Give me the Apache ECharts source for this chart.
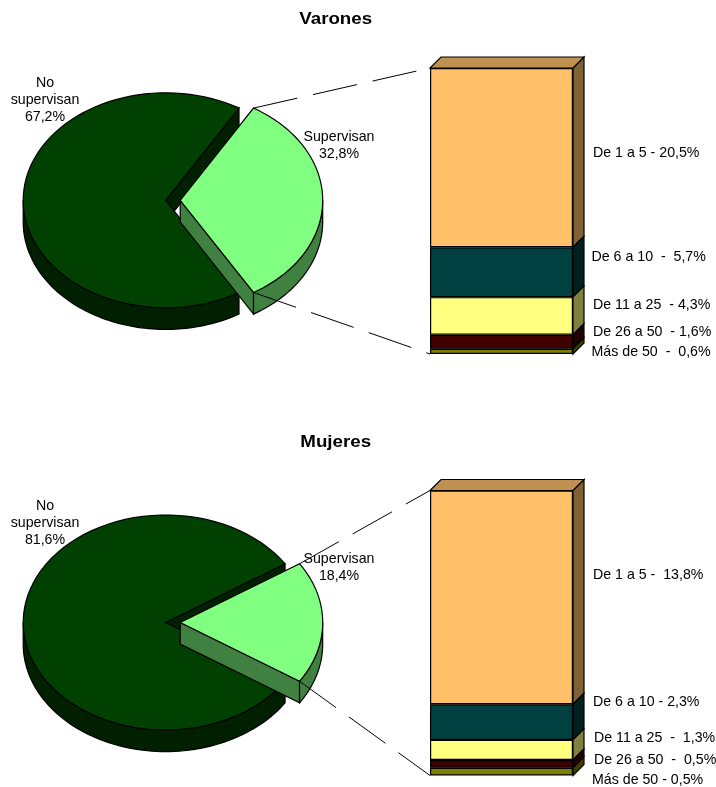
<!DOCTYPE html>
<html>
<head>
<meta charset="utf-8">
<style>html,body{margin:0;padding:0;background:#fff}#chart{width:716px;height:787px}</style>
<script src="https://cdn.jsdelivr.net/npm/echarts@6/dist/echarts.min.js"></script>
</head>
<body>
<div id="chart"></div>
<script>
// datos
var tramos = ['De 1 a 5', 'De 6 a 10', 'De 11 a 25', 'De 26 a 50', 'Más de 50'];
var varonesTramos = [20.5, 5.7, 4.3, 1.6, 0.6];
var mujeresTramos = [13.8, 2.3, 1.3, 0.5, 0.5];
var varonesPie = [67.2, 32.8];
var mujeresPie = [81.6, 18.4];
var etiquetasVarones = ['De 1 a 5 - 20,5%', 'De 6 a 10  -  5,7%', 'De 11 a 25  - 4,3%', 'De 26 a 50  - 1,6%', 'Más de 50  -  0,6%'];
var etiquetasMujeres = ['De 1 a 5 -  13,8%', 'De 6 a 10 - 2,3%', 'De 11 a 25  -  1,3%', 'De 26 a 50  -  0,5%', 'Más de 50 - 0,5%'];

// colores: frente, lateral, tapa
var colores = ['#FFC069', '#004040', '#FFFF80', '#400000', '#808000'];
var lateral = ['#806035', '#002020', '#808040', '#200000', '#404000'];
var tapa = '#BF9050';
var FUENTE = '"Liberation Sans", Arial, sans-serif';

// posiciones de cada panel
var paneles = [
    { titulo: 'Varones', tituloY: 19.5, pie: varonesPie, tramos: varonesTramos, etiquetas: etiquetasVarones,
      cy: 200.3, barLeft: 430, barTop: 68, barH: 286,
      etqX: [593, 591.5, 593, 593, 591.5], etqY: [153, 257, 305, 332, 352],
      pctNo: '67,2%', pctSi: '32,8%', noY: 83, siY: 137 },
    { titulo: 'Mujeres', tituloY: 443, pie: mujeresPie, tramos: mujeresTramos, etiquetas: etiquetasMujeres,
      cy: 622.5, barLeft: 430, barTop: 490.5, barH: 285,
      etqX: [593, 593, 594, 594, 592], etqY: [575, 702, 738, 760, 780],
      pctNo: '81,6%', pctSi: '18,4%', noY: 506, siY: 559 }
];
var BAR_W = 143, OFF = 11, RX = 142.5, RY = 107.5, DEPTH = 21.6, CX = 165.7, EXPLODE = 14.5;

function arco(cx, cy, a0, a1) {
    var pts = [], n = 80;
    for (var i = 0; i <= n; i++) {
        var t = a0 + (a1 - a0) * i / n;
        pts.push([cx + RX * Math.cos(t), cy + RY * Math.sin(t)]);
    }
    return pts;
}
function poli(pts, fill, lw) {
    return { type: 'polygon', shape: { points: pts }, style: { fill: fill, stroke: '#000', lineWidth: lw || 1.2 } };
}
function bajar(pts) {
    return pts.map(function (p) { return [p[0], p[1] + DEPTH]; });
}

// torta con efecto 3D, la porcion "supervisan" separada y centrada a la derecha
function pintarPie(panel) {
    return function (params, api) {
        var h = api.value(1) / 100 * Math.PI;
        var cy = panel.cy, c2 = CX + EXPLODE;
        var hijos = [];
        // oscuro
        var p1 = [CX + RX * Math.cos(h), cy - RY * Math.sin(h)];
        hijos.push(poli([[CX, cy], p1, [p1[0], p1[1] + DEPTH], [CX, cy + DEPTH]], '#002000'));
        var borde = arco(CX, cy, h, Math.PI);
        hijos.push(poli(borde.concat(bajar(borde).reverse()), '#002000'));
        hijos.push(poli([[CX, cy]].concat(arco(CX, cy, h, 2 * Math.PI - h)), '#004000'));
        // claro
        var inf = [c2 + RX * Math.cos(h), cy + RY * Math.sin(h)];
        var sup = [c2 + RX * Math.cos(h), cy - RY * Math.sin(h)];
        hijos.push(poli([[c2, cy], inf, [inf[0], inf[1] + DEPTH], [c2, cy + DEPTH]], '#408040'));
        var borde2 = arco(c2, cy, 0, h);
        hijos.push(poli(borde2.concat(bajar(borde2).reverse()), '#408040'));
        hijos.push(poli([[c2, cy]].concat(arco(c2, cy, -h, h)), '#80FF80'));
        // lineas hacia la barra
        [[sup, panel.barTop], [inf, panel.barTop + panel.barH]].forEach(function (l) {
            hijos.push({ type: 'line', shape: { x1: l[0][0], y1: l[0][1], x2: panel.barLeft, y2: l[1] },
                style: { stroke: '#000', lineWidth: 1, lineDash: [45, 16] } });
        });
        return { type: 'group', children: hijos };
    };
}

// tapa y laterales de la barra apilada
function pintarCaras(grosor) {
    return function (params, api) {
        var i = params.dataIndex;
        var arriba = api.coord([0, api.value(1) + api.value(2)]);
        var abajo = api.coord([0, api.value(1)]);
        var w = api.size([1, 0])[0];
        var x1 = arriba[0] + w / 2, x0 = arriba[0] - w / 2;
        var hijos = [poli([[x1, arriba[1]], [x1 + OFF, arriba[1] - OFF], [x1 + OFF, abajo[1] - OFF], [x1, abajo[1]]], lateral[i], grosor)];
        if (i === 0) {
            hijos.push(poli([[x0, arriba[1]], [x0 + OFF, arriba[1] - OFF], [x1 + OFF, arriba[1] - OFF], [x1, arriba[1]]], tapa, grosor));
        }
        return { type: 'group', children: hijos };
    };
}

var grids = [], xAxes = [], yAxes = [], series = [], textos = [];
paneles.forEach(function (p, k) {
    var total = p.tramos.reduce(function (a, b) { return a + b; }, 0);
    grids.push({ left: p.barLeft, top: p.barTop, width: BAR_W, height: p.barH });
    xAxes.push({ type: 'category', gridIndex: k, data: [p.titulo], show: false });
    yAxes.push({ type: 'value', gridIndex: k, min: 0, max: total, show: false });

    var acum = total, filas = [], bloque = [];
    p.tramos.forEach(function (v, i) {
        acum -= v;
        filas.push([0, acum, v]);
        // la pila se arma de abajo hacia arriba
        bloque.unshift({
            type: 'bar', name: tramos[i], xAxisIndex: k, yAxisIndex: k, stack: 'p' + k, barWidth: '100%', silent: true,
            itemStyle: { color: colores[i], borderColor: '#000', borderWidth: 1.2 }, data: [v], z: 3
        });
    });
    series = series.concat(bloque);

    series.push({ type: 'custom', coordinateSystem: 'cartesian2d', xAxisIndex: k, yAxisIndex: k, clip: false, silent: true,
        renderItem: pintarCaras(1.2), data: filas, z: 2 });
    series.push({ type: 'custom', coordinateSystem: 'none', silent: true, renderItem: pintarPie(p),
        data: [p.pie], z: 4 });

    p.etiquetas.forEach(function (t, i) {
        textos.push({ type: 'text', x: p.etqX[i], y: p.etqY[i], z: 10,
            style: { text: t, font: '14.2px ' + FUENTE, fill: '#000', verticalAlign: 'middle' } });
    });
    textos.push({ type: 'text', x: 45, y: p.noY - 8, z: 10,
        style: { text: 'No\nsupervisan\n' + p.pctNo, font: '14.2px ' + FUENTE, fill: '#000', align: 'center', lineHeight: 17 } });
    textos.push({ type: 'text', x: 339, y: p.siY - 8, z: 10,
        style: { text: 'Supervisan\n' + p.pctSi, font: '14.2px ' + FUENTE, fill: '#000', align: 'center', lineHeight: 17 } });
    // el titulo original va muy espaciado
    textos.push({ type: 'text', x: 335.7, y: p.tituloY, z: 10, scaleX: 1.17,
        style: { text: p.titulo, font: 'bold 16px ' + FUENTE, fill: '#000', align: 'center', verticalAlign: 'middle' } });
});

var chart = echarts.init(document.getElementById('chart'));
chart.setOption({
    backgroundColor: '#fff',
    animation: false,
    grid: grids,
    xAxis: xAxes,
    yAxis: yAxes,
    series: series,
    graphic: textos
});
</script>
</body>
</html>
